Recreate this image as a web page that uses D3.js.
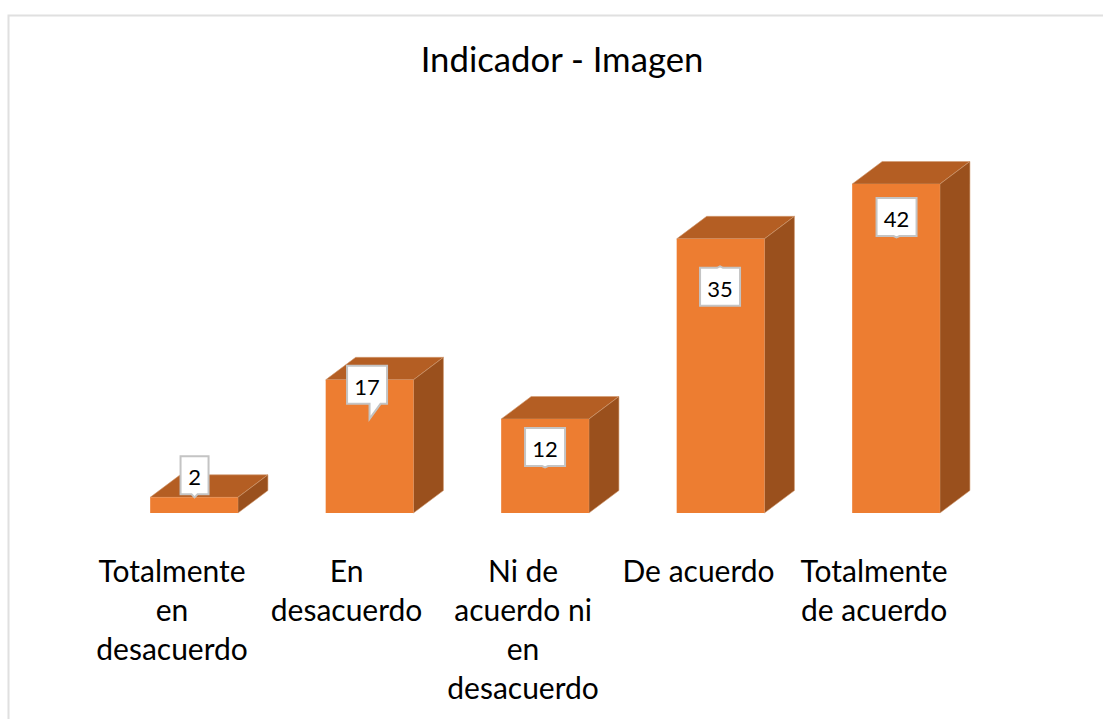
<!DOCTYPE html>
<html><head><meta charset="utf-8">
<script src="https://cdn.jsdelivr.net/npm/d3@7"></script>
<style>html,body{margin:0;background:#fff}svg{display:block}text{font-family:Lato,"Open Sans",sans-serif;fill:#000}</style>
</head><body><svg id="c" width="1103" height="719"></svg>
<script>
const title = "Indicador - Imagen";
const categories = [["Totalmente","en","desacuerdo"],["En","desacuerdo"],["Ni de","acuerdo ni","en","desacuerdo"],["De acuerdo"],["Totalmente","de acuerdo"]];
const values = [2,17,12,35,42];
// callout placement relative to the top of each bar
const calloutDx = [0.5,-2.5,0,-0.5,0.5];
const calloutDy = [-41,-14,9,29,14];
const calloutW = [28,40,40,40,40];
const categoryDx = [-22,-23,-22,-22,-22];

const svg = d3.select("#c");
svg.append("path").attr("d","M8.5 719V15.5H1103").attr("fill","none").attr("stroke","#e0e0e0").attr("stroke-width",2);
svg.append("text").attr("x",562).attr("y",72).attr("text-anchor","middle").attr("font-size",34.7).text(title);

const x = d3.scaleBand().domain(d3.range(values.length)).range([106.3,983.8]).paddingInner(0.5).paddingOuter(0.25);
const y = d3.scaleLinear().domain([0,42]).range([513,184]);
const depthX = 30, depthY = 22.5;
const bar = svg.selectAll("g.b").data(values).join("g").attr("class","b");
const pts = a => a.map(p=>p.join(",")).join(" ");
bar.append("polygon").attr("fill","#b45e23").attr("stroke","#d19a70").attr("stroke-width",.6)
  .attr("points",(d,i)=>{const a=x(i),w=x.bandwidth(),t=y(d);return pts([[a,t],[a+depthX,t-depthY],[a+w+depthX,t-depthY],[a+w,t]]);});
bar.append("polygon").attr("fill","#9a501d").attr("stroke","#d19a70").attr("stroke-width",.6)
  .attr("points",(d,i)=>{const a=x(i)+x.bandwidth(),t=y(d),b=y(0);return pts([[a,t],[a+depthX,t-depthY],[a+depthX,b-depthY],[a,b]]);});
bar.append("rect").attr("fill","#ed7d31").attr("x",(d,i)=>x(i)).attr("y",d=>y(d)).attr("width",x.bandwidth()).attr("height",d=>y(0)-y(d));

const h = 38;
const lab = svg.selectAll("g.l").data(values).join("g").attr("class","l")
  .attr("transform",(d,i)=>`translate(${x(i)+x.bandwidth()/2+calloutDx[i]},${y(d)+calloutDy[i]})`);
lab.append("path").attr("fill","#fff").attr("stroke","#c4c4c4").attr("stroke-width",2).attr("stroke-linejoin","miter")
  .attr("d",(d,i)=>{
    const r=calloutW[i]/2;
    if(i===1) return `M${-r} 0H${r}V${h}H13.5L2.5 53V${h}H${-r}Z`;
    if(i===3) return `M${-r} 0H-3L0 -1.5L3 0H${r}V${h}H${-r}Z`;
    return `M${-r} 0H${r}V${h}H3L0 ${h+(i===0?3:1.5)}L-3 ${h}H${-r}Z`;
  });
lab.append("text").attr("text-anchor","middle").attr("font-size",22).attr("y",29).text(d=>d);

const cat = svg.selectAll("g.c").data(categories).join("g").attr("class","c")
  .attr("transform",(d,i)=>`translate(${x(i)+x.bandwidth()/2+categoryDx[i]},0)`);
cat.selectAll("text").data(d=>d).join("text").attr("text-anchor","middle").attr("font-size",30)
  .attr("y",(d,j)=>582+j*39).text(d=>d);
</script></body></html>
